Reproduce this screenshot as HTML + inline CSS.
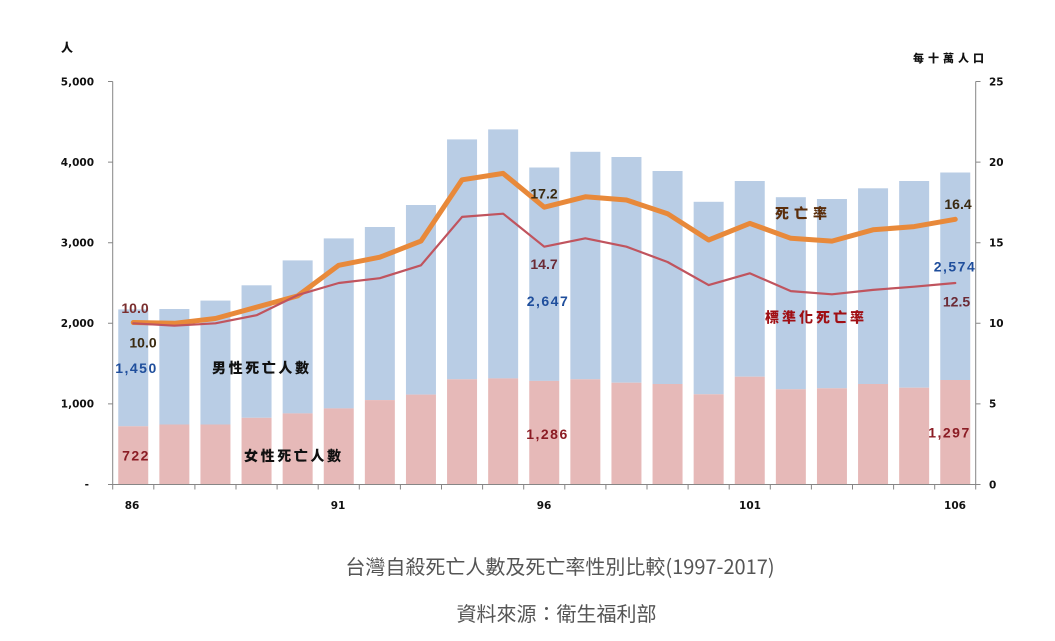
<!DOCTYPE html>
<html><head><meta charset="utf-8"><style>
html,body{margin:0;padding:0;background:#fff;}
svg{display:block;}
.ax{font-family:"DejaVu Sans","Liberation Sans",sans-serif;font-weight:bold;font-size:10.5px;fill:#111;}
.lbl{font-family:"Liberation Sans","Noto Sans CJK TC",sans-serif;font-weight:bold;font-size:14px;}
.cj{font-family:"Noto Sans CJK TC","Noto Serif CJK SC",sans-serif;font-weight:900;}
.ti{font-family:"Noto Sans CJK TC","Liberation Sans",sans-serif;font-size:20px;fill:#555;}
</style></head><body>
<svg width="1055" height="641" viewBox="0 0 1055 641" xmlns="http://www.w3.org/2000/svg">
<rect width="1055" height="641" fill="#fff"/>
<!-- bars: blue (male) on top of pink (female) -->
<g fill="#b9cde5">
<rect x="118.25" y="309.4" width="30" height="116.9"/>
<rect x="159.35" y="309.0" width="30" height="115.5"/>
<rect x="200.45" y="300.6" width="30" height="123.9"/>
<rect x="241.55" y="285.3" width="30" height="132.5"/>
<rect x="282.65" y="260.4" width="30" height="153.0"/>
<rect x="323.75" y="238.4" width="30" height="170.0"/>
<rect x="364.85" y="227.0" width="30" height="173.1"/>
<rect x="405.95" y="205.0" width="30" height="189.6"/>
<rect x="447.05" y="139.4" width="30" height="239.9"/>
<rect x="488.15" y="129.4" width="30" height="249.0"/>
<rect x="529.25" y="167.5" width="30" height="213.4"/>
<rect x="570.35" y="151.8" width="30" height="227.5"/>
<rect x="611.45" y="157.0" width="30" height="225.7"/>
<rect x="652.55" y="171.0" width="30" height="213.0"/>
<rect x="693.65" y="201.8" width="30" height="192.5"/>
<rect x="734.75" y="181.0" width="30" height="195.7"/>
<rect x="775.85" y="197.2" width="30" height="192.1"/>
<rect x="816.95" y="199.0" width="30" height="189.3"/>
<rect x="858.05" y="188.3" width="30" height="195.7"/>
<rect x="899.15" y="181.0" width="30" height="206.7"/>
<rect x="940.25" y="172.5" width="30" height="207.5"/>
</g>
<g fill="#e6b9b8">
<rect x="118.25" y="426.3" width="30" height="58.2"/>
<rect x="159.35" y="424.5" width="30" height="60.0"/>
<rect x="200.45" y="424.5" width="30" height="60.0"/>
<rect x="241.55" y="417.8" width="30" height="66.7"/>
<rect x="282.65" y="413.4" width="30" height="71.1"/>
<rect x="323.75" y="408.4" width="30" height="76.1"/>
<rect x="364.85" y="400.1" width="30" height="84.4"/>
<rect x="405.95" y="394.6" width="30" height="89.9"/>
<rect x="447.05" y="379.3" width="30" height="105.2"/>
<rect x="488.15" y="378.4" width="30" height="106.1"/>
<rect x="529.25" y="380.9" width="30" height="103.6"/>
<rect x="570.35" y="379.3" width="30" height="105.2"/>
<rect x="611.45" y="382.7" width="30" height="101.8"/>
<rect x="652.55" y="384.0" width="30" height="100.5"/>
<rect x="693.65" y="394.3" width="30" height="90.2"/>
<rect x="734.75" y="376.7" width="30" height="107.8"/>
<rect x="775.85" y="389.3" width="30" height="95.2"/>
<rect x="816.95" y="388.3" width="30" height="96.2"/>
<rect x="858.05" y="384.0" width="30" height="100.5"/>
<rect x="899.15" y="387.7" width="30" height="96.8"/>
<rect x="940.25" y="380.0" width="30" height="104.5"/>
</g>
<!-- axes -->
<g stroke="#868686" stroke-width="1" fill="none">
<line x1="112.7" y1="81.5" x2="112.7" y2="484.5"/>
<line x1="975.7" y1="81.5" x2="975.7" y2="484.5"/>
<line x1="112.7" y1="484.5" x2="975.7" y2="484.5"/>
<path d="M108 81.5H112.7M108 162.1H112.7M108 242.7H112.7M108 323.3H112.7M108 403.9H112.7M108 484.5H112.7"/>
<path d="M975.7 81.5H980.5M975.7 162.1H980.5M975.7 242.7H980.5M975.7 323.3H980.5M975.7 403.9H980.5M975.7 484.5H980.5"/>
<path d="M112.7 484.5V489.5M153.8 484.5V489.5M194.9 484.5V489.5M236 484.5V489.5M277.1 484.5V489.5M318.2 484.5V489.5M359.3 484.5V489.5M400.4 484.5V489.5M441.5 484.5V489.5M482.6 484.5V489.5M523.7 484.5V489.5M564.8 484.5V489.5M605.9 484.5V489.5M647 484.5V489.5M688.1 484.5V489.5M729.2 484.5V489.5M770.3 484.5V489.5M811.4 484.5V489.5M852.5 484.5V489.5M893.6 484.5V489.5M934.7 484.5V489.5M975.7 484.5V489.5"/>
</g>
<!-- lines -->
<polyline fill="none" stroke="#e8893a" stroke-width="5" stroke-linejoin="round" stroke-linecap="round" points="133.25,322.5 174.35,323.3 215.45,318.5 256.55,307.2 297.65,295.9 338.75,265.3 379.85,257.2 420.95,241.1 462.05,179.8 503.15,173.4 544.25,207.2 585.35,196.8 626.45,200.0 667.55,213.7 708.65,240.0 749.75,223.4 790.85,238.3 831.95,241.1 873.05,229.8 914.15,226.6 955.25,219.3"/>
<polyline fill="none" stroke="#c0545e" stroke-width="2.2" stroke-linejoin="round" stroke-linecap="round" points="133.25,323.3 174.35,325.7 215.45,323.3 256.55,315.2 297.65,295.1 338.75,283.0 379.85,278.2 420.95,265.3 462.05,216.9 503.15,213.7 544.25,246.7 585.35,238.3 626.45,246.7 667.55,262.0 708.65,285.1 749.75,273.3 790.85,291.1 831.95,294.3 873.05,289.9 914.15,286.7 955.25,283.0"/>
<!-- left axis labels -->
<g class="ax" text-anchor="end">
<text x="94" y="85.5">5,000</text>
<text x="94" y="166">4,000</text>
<text x="94" y="246.5">3,000</text>
<text x="94" y="327">2,000</text>
<text x="94" y="407.5">1,000</text>
<text x="89" y="488">-</text>
</g>
<g class="ax" text-anchor="start">
<text x="989" y="85.5">25</text>
<text x="989" y="166">20</text>
<text x="989" y="246.5">15</text>
<text x="989" y="327">10</text>
<text x="989" y="407.5">5</text>
<text x="989" y="488.5">0</text>
</g>
<g class="ax" text-anchor="middle">
<text x="132" y="509">86</text>
<text x="338" y="509">91</text>
<text x="544" y="509">96</text>
<text x="750" y="509">101</text>
<text x="955" y="509">106</text>
</g>
<text class="cj" x="67" y="52" font-size="12" text-anchor="middle" fill="#111">人</text>
<text class="cj" x="913" y="62" font-size="11" letter-spacing="4" fill="#111">每十萬人口</text>
<!-- data labels -->
<g class="lbl" text-anchor="middle">
<text x="135" y="313" fill="#7a2e2e">10.0</text>
<text x="143" y="347.7" fill="#3a2a10">10.0</text>
<text x="136.5" y="373" fill="#1f4e9c" letter-spacing="1.5">1,450</text>
<text x="136" y="460.7" fill="#8b1c24" letter-spacing="1.5">722</text>
<text x="544" y="198.3" fill="#3a2a10">17.2</text>
<text x="544" y="269" fill="#6b2a35">14.7</text>
<text x="548" y="306" fill="#1f4e9c" letter-spacing="1.5">2,647</text>
<text x="547.5" y="439" fill="#8b1c24" letter-spacing="1.5">1,286</text>
<text x="958" y="209" fill="#3a2a10">16.4</text>
<text x="955" y="271.7" fill="#1f4e9c" letter-spacing="1.5">2,574</text>
<text x="956.5" y="306.7" fill="#6b2a35">12.5</text>
<text x="949.5" y="437.3" fill="#8b1c24" letter-spacing="1.5">1,297</text>
</g>
<g class="cj" font-size="14">
<text x="212" y="373" letter-spacing="2.6" fill="#111">男性死亡人數</text>
<text x="244" y="461" letter-spacing="2.6" fill="#111">女性死亡人數</text>
<text x="775" y="218.5" letter-spacing="5" fill="#5a2d0a">死亡率</text>
<text x="765" y="322.5" letter-spacing="3" fill="#a00f14">標準化死亡率</text>
</g>
<!-- title -->
<text class="ti" x="560" y="574" text-anchor="middle">台灣自殺死亡人數及死亡率性別比較(1997-2017)</text>
<text class="ti" x="556.5" y="621" text-anchor="middle">資料來源：衛生福利部</text>
</svg>
</body></html>
